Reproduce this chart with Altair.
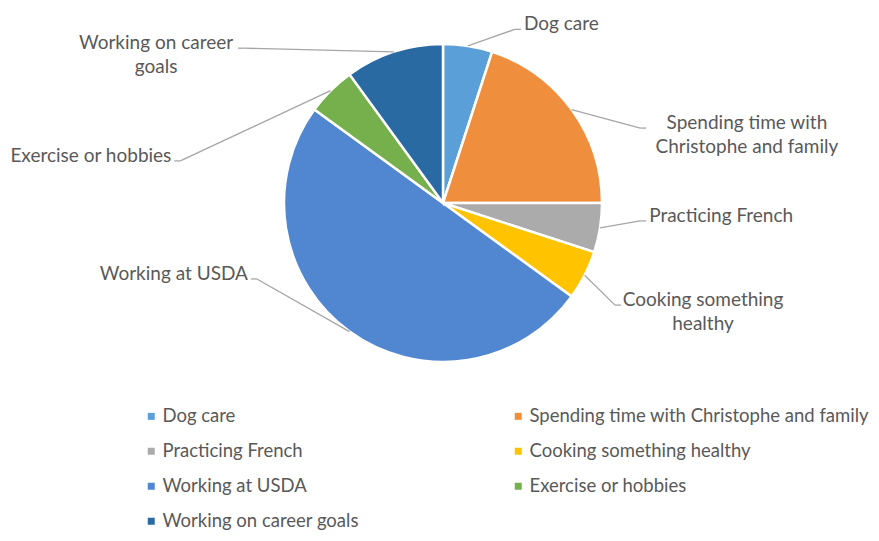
import math
import altair as alt
import pandas as pd

# ---- data ----
categories = [
    "Dog care",
    "Spending time with Christophe and family",
    "Practicing French",
    "Cooking something healthy",
    "Working at USDA",
    "Exercise or hobbies",
    "Working on career goals",
]
values = [5, 20, 5, 5, 50, 5, 10]
label_lines = [
    ["Dog care"],
    ["Spending time with", "Christophe and family"],
    ["Practicing French"],
    ["Cooking something", "healthy"],
    ["Working at USDA"],
    ["Exercise or hobbies"],
    ["Working on career", "goals"],
]

# ---- style / layout ----
colors = ["#5B9FD9", "#EF8F3E", "#ABABAB", "#FFC300", "#5186D0", "#75B04C", "#2A6AA3"]
# leader-line elbow for each data label: angle (deg, clockwise from 12 o'clock), distance from pie centre (px)
label_angle = [22.5, 69.2, 95.2, 120.7, 247.8, 279.1, 307.9]
label_radius = [188, 211, 198, 200, 201, 266, 252]

W, H = 863, 525
CX, CY = 435, 195
R = 159
FONT = "Lato"
FS = 19
LEGEND_FS = 18.5
TEXT_COLOR = "#595959"
CHAR_W = 9.3
TAIL = 6
GAP = 3

total = sum(values)
rows, segs, labels = [], [], []
cum = 0
for i, (c, v) in enumerate(zip(categories, values)):
    mid = (cum + v / 2) / total * 2 * math.pi
    cum += v
    rows.append({"category": c, "value": v, "idx": i})
    ex, ey = CX + R * math.sin(mid), CY - R * math.cos(mid)
    a = math.radians(label_angle[i])
    bx, by = CX + label_radius[i] * math.sin(a), CY - label_radius[i] * math.cos(a)
    side = 1 if math.sin(a) >= 0 else -1
    tx = bx + side * TAIL
    segs.append({"category": c, "x": ex, "y": ey, "x2": bx, "y2": by})
    segs.append({"category": c, "x": bx, "y": by, "x2": tx, "y2": by})
    lines = label_lines[i]
    if len(lines) > 1:
        w = max(len(s) for s in lines) * CHAR_W
        lx = bx + side * (TAIL + GAP + w / 2)
        al = "center"
    else:
        lx = bx + side * (TAIL + GAP)
        al = "left" if side > 0 else "right"
    labels.append({"category": c, "text": lines, "lx": lx, "ly": by + 1, "al": al})

df = pd.DataFrame(rows)
seg_df = pd.DataFrame(segs)
lab_df = pd.DataFrame(labels)

# legend fills column by column: order entries so that it reads row by row like the original
legend_order = [categories[i] for i in range(0, len(categories), 2)] + [categories[i] for i in range(1, len(categories), 2)]
cmap = dict(zip(categories, colors))
color_scale = alt.Scale(domain=legend_order, range=[cmap[c] for c in legend_order])

pie = alt.Chart(df).mark_arc(outerRadius=R, stroke="white", strokeWidth=2.5).encode(
    theta=alt.Theta("value:Q", stack=True),
    order=alt.Order("idx:Q", sort="ascending"),
    color=alt.Color(
        "category:N",
        scale=color_scale,
        legend=alt.Legend(
            orient="none",
            legendX=134,
            legendY=399,
            columns=2,
            title=None,
            padding=0,
            symbolOffset=0,
            symbolType="square",
            symbolSize=49,
            symbolStrokeWidth=0,
            labelFont=FONT,
            labelFontSize=LEGEND_FS,
            labelColor=TEXT_COLOR,
            labelLimit=420,
            labelOffset=2,
            rowPadding=16,
            columnPadding=150,
        ),
    ),
    x=alt.value(CX),
    y=alt.value(CY),
)

leaders = alt.Chart(seg_df).mark_rule(color="#A6A6A6", strokeWidth=1.3).encode(
    x=alt.X("x:Q", scale=None),
    y=alt.Y("y:Q", scale=None),
    x2="x2:Q",
    y2="y2:Q",
)

text_layers = []
for al in ["left", "right", "center"]:
    text_layers.append(
        alt.Chart(lab_df)
        .transform_filter(alt.datum.al == al)
        .mark_text(align=al, baseline="alphabetic", font=FONT, fontSize=FS, color=TEXT_COLOR, lineHeight=24)
        .encode(
            x=alt.X("lx:Q", scale=None),
            y=alt.Y("ly:Q", scale=None),
            text="text",
        )
    )

chart = (
    alt.layer(pie, leaders, *text_layers)
    .properties(width=W, height=H, padding=0, autosize=alt.AutoSizeParams(type="none"), background="white")
    .configure_view(stroke=None)
)

chart.save("out.html", embed_options={"renderer": "svg", "actions": False})
